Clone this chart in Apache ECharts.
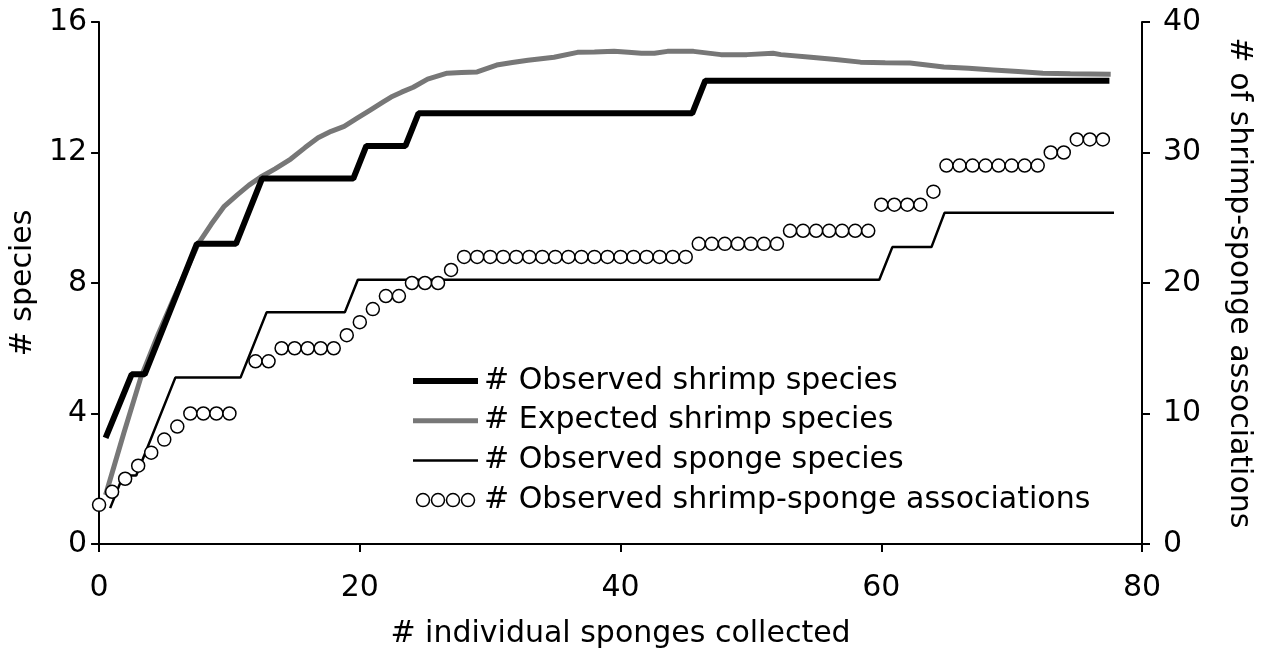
<!DOCTYPE html>
<html>
<head>
<meta charset="utf-8">
<script src="https://cdn.jsdelivr.net/npm/echarts@6/dist/echarts.min.js"></script>
<style>
html,body{margin:0;padding:0;background:#fff;}
#chart{width:1262px;height:655px;}
</style>
</head>
<body>
<div id="chart"></div>
<script>
// ---- data ----
const seriesNames = ['# Observed shrimp species', '# Expected shrimp species', '# Observed sponge species', '# Observed shrimp-sponge associations'];

const shrimpObsX = [0.5, 2.5, 3.5, 7.5, 10.5, 12.5, 19.5, 20.5, 23.5, 24.5, 45.5, 46.5, 77.5];
const shrimpObsY = [3.25, 5.2, 5.2, 9.2, 9.2, 11.2, 11.2, 12.2, 12.2, 13.2, 13.2, 14.2, 14.2];

const shrimpExpX = [0.5, 1.9, 3.2, 4.5, 5.7, 6.6, 7.6, 8.6, 9.6, 10.6, 11.5, 12.4, 13.5, 14.7, 15.8, 16.8, 17.8, 18.8, 19.8, 20.8, 21.8, 22.4, 23.2, 24.1, 25.2, 26.7, 27.8, 29.0, 30.5, 31.7, 32.9, 34.9, 36.7, 38.0, 39.5, 40.6, 41.6, 42.6, 43.6, 45.6, 47.7, 49.7, 51.7, 52.3, 54.6, 56.5, 58.4, 60.3, 62.2, 64.8, 66.7, 68.6, 70.5, 72.4, 74.5, 77.6];
const shrimpExpY = [1.5, 3.4, 5.1, 6.4, 7.5, 8.3, 9.2, 9.8, 10.35, 10.7, 11.0, 11.25, 11.5, 11.8, 12.15, 12.45, 12.65, 12.8, 13.05, 13.3, 13.55, 13.7, 13.85, 14.0, 14.25, 14.43, 14.45, 14.47, 14.68, 14.76, 14.83, 14.92, 15.07, 15.08, 15.1, 15.07, 15.04, 15.04, 15.1, 15.1, 15.0, 15.0, 15.04, 15.0, 14.92, 14.85, 14.77, 14.75, 14.74, 14.62, 14.58, 14.53, 14.48, 14.43, 14.41, 14.4];

const spongeX = [0.85, 1.85, 2.85, 5.85, 10.85, 12.85, 18.85, 19.85, 59.85, 60.85, 63.85, 64.85, 77.85];
const spongeY = [1.1, 2.1, 2.1, 5.1, 5.1, 7.1, 7.1, 8.1, 8.1, 9.1, 9.1, 10.15, 10.15];

const assocX = [0,1,2,3,4,5,6,7,8,9,10,12,13,14,15,16,17,18,19,20,21,22,23,24,25,26,27,
  28,29,30,31,32,33,34,35,36,37,38,39,40,41,42,43,44,45,
  46,47,48,49,50,51,52,53,54,55,56,57,58,59,60,61,62,63,64,
  65,66,67,68,69,70,71,72,73,74,75,76,77];
const assocY = [3,4,5,6,7,8,9,10,10,10,10,14,14,15,15,15,15,15,16,17,18,19,19,20,20,20,21,
  22,22,22,22,22,22,22,22,22,22,22,22,22,22,22,22,22,22,
  23,23,23,23,23,23,23,24,24,24,24,24,24,24,26,26,26,26,27,
  29,29,29,29,29,29,29,29,30,30,31,31,31];

const xTicks = {min: 0, max: 80, interval: 20};
const yLeftTicks = {min: 0, max: 16, interval: 4};
const yRightTicks = {min: 0, max: 40, interval: 10};
const axisNames = {x: '# individual sponges collected', yLeft: '# species', yRight: '# of shrimp-sponge associations'};

// ---- chart ----
const FONT = 'DejaVu Sans';
const pair = (xs, ys) => xs.map((x, i) => [x, ys[i]]);
const chart = echarts.init(document.getElementById('chart'), null, {renderer: 'canvas'});

const axisCommon = {
  axisLine: {show: true, lineStyle: {color: '#000', width: 2}},
  axisTick: {show: true, inside: false, length: 8, lineStyle: {color: '#000', width: 2}},
  splitLine: {show: false},
  nameTextStyle: {fontFamily: FONT, fontSize: 30, color: '#000'},
};

const circlePath = (cx) => 'M' + cx + ',6.5a6.5,6.5 0 1,0 13,0a6.5,6.5 0 1,0 -13,0z';
const fourCircles = 'path://' + circlePath(0) + circlePath(15) + circlePath(30) + circlePath(45);
const barIcon = (h) => 'path://M0,0H65V' + h + 'H0Z';

chart.setOption({
  animation: false,
  backgroundColor: '#fff',
  grid: {left: 98, right: 120, top: 22, bottom: 111, containLabel: false},
  legend: {
    orient: 'vertical', left: 408, top: 361,
    itemWidth: 65, itemHeight: 13, itemGap: 9.7,
    textStyle: {fontFamily: FONT, fontSize: 30, color: '#000', lineHeight: 30, padding: [0, 0, 0, 1]},
    data: [
      {name: seriesNames[0], icon: barIcon(6), itemStyle: {color: '#000', borderWidth: 0}},
      {name: seriesNames[1], icon: barIcon(5), itemStyle: {color: '#777777', borderWidth: 0}},
      {name: seriesNames[2], icon: barIcon(2.5), itemStyle: {color: '#000', borderWidth: 0}},
      {name: seriesNames[3], icon: fourCircles, itemStyle: {color: '#fff', borderColor: '#000', borderWidth: 1.5}}
    ]
  },
  xAxis: Object.assign({}, axisCommon, {
    type: 'value', min: xTicks.min, max: xTicks.max, interval: xTicks.interval,
    name: axisNames.x, nameLocation: 'middle', nameGap: 75,
    axisLabel: {fontFamily: FONT, fontSize: 30, color: '#000', margin: 29}
  }),
  yAxis: [
    Object.assign({}, axisCommon, {
      type: 'value', position: 'left', min: yLeftTicks.min, max: yLeftTicks.max, interval: yLeftTicks.interval,
      name: axisNames.yLeft, nameLocation: 'middle', nameGap: 52, nameRotate: 90,
      axisLabel: {fontFamily: FONT, fontSize: 30, color: '#000', margin: 12}
    }),
    Object.assign({}, axisCommon, {
      type: 'value', position: 'right', min: yRightTicks.min, max: yRightTicks.max, interval: yRightTicks.interval,
      name: axisNames.yRight, nameLocation: 'middle', nameGap: 82, nameRotate: -90,
      axisLabel: {fontFamily: FONT, fontSize: 30, color: '#000', margin: 21}
    })
  ],
  series: [
    {
      name: seriesNames[1], type: 'line', yAxisIndex: 0, z: 2,
      data: pair(shrimpExpX, shrimpExpY), symbol: 'none', smooth: false,
      lineStyle: {color: '#777777', width: 5}, itemStyle: {color: '#777777'}
    },
    {
      name: seriesNames[0], type: 'line', yAxisIndex: 0, z: 3,
      data: pair(shrimpObsX, shrimpObsY), symbol: 'none',
      lineStyle: {color: '#000', width: 6}, itemStyle: {color: '#000'}
    },
    {
      name: seriesNames[2], type: 'line', yAxisIndex: 0, z: 3,
      data: pair(spongeX, spongeY), symbol: 'none',
      lineStyle: {color: '#000', width: 2.5}, itemStyle: {color: '#000'}
    },
    {
      name: seriesNames[3], type: 'scatter', yAxisIndex: 1, z: 5,
      data: pair(assocX, assocY), symbol: 'circle', symbolSize: 13,
      itemStyle: {color: '#fff', borderColor: '#000', borderWidth: 1.5, opacity: 1}
    }
  ]
});
</script>
</body>
</html>
